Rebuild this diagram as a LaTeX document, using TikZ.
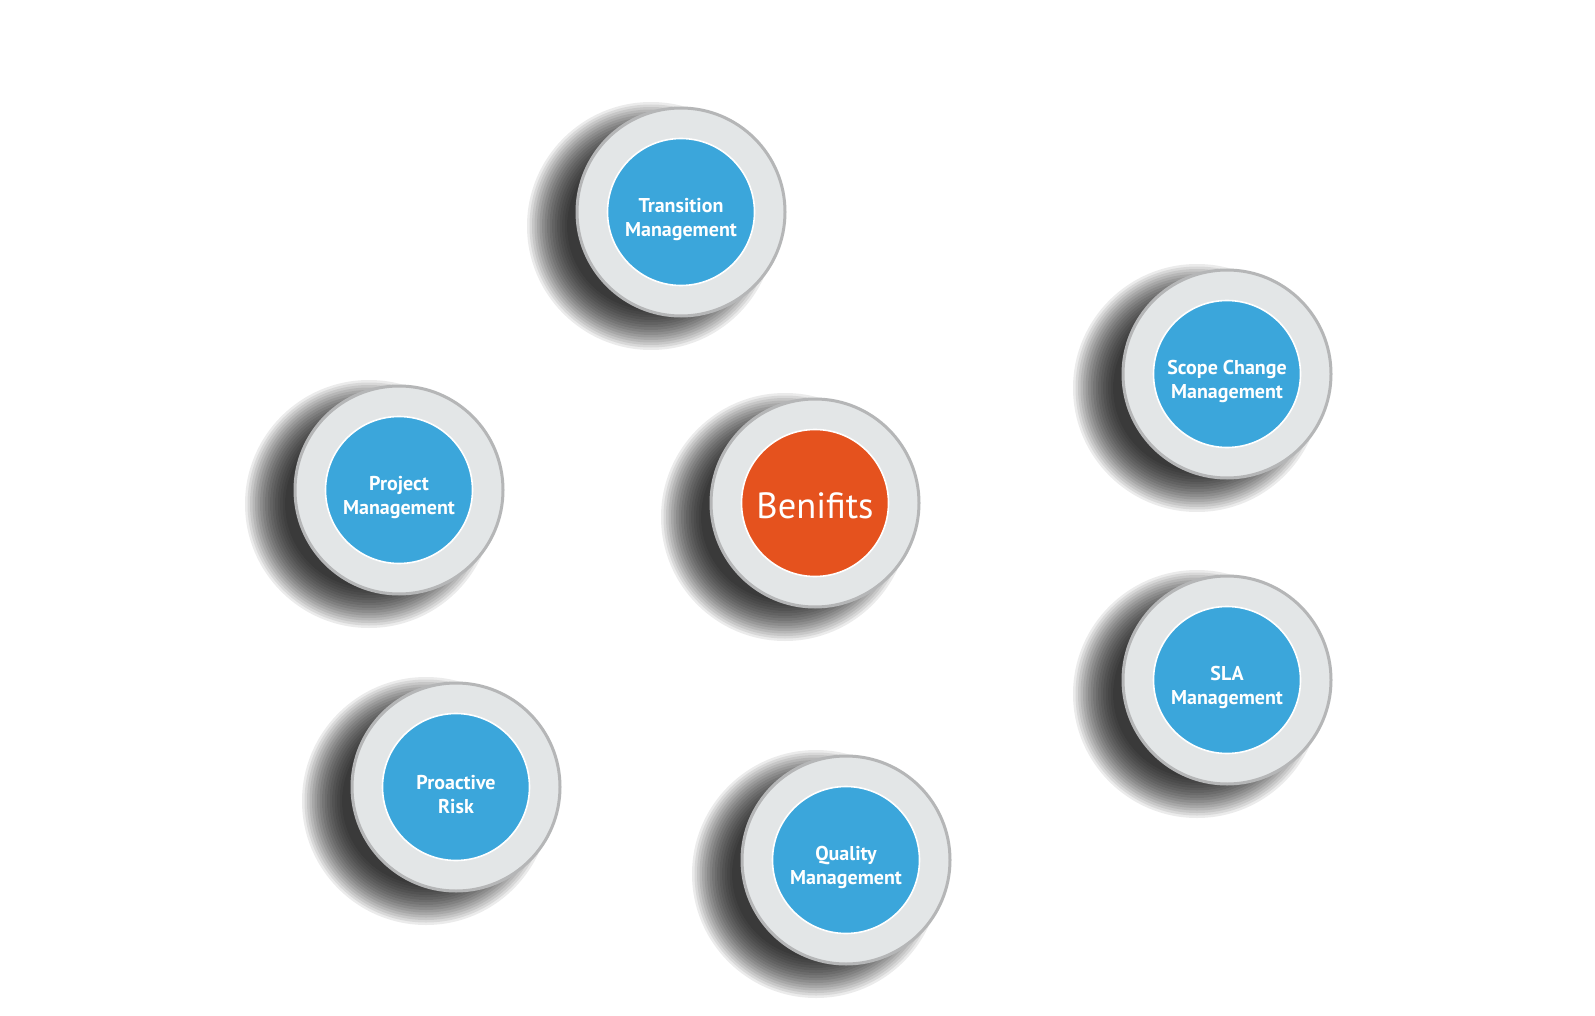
\documentclass[tikz,border=0pt]{standalone}
\usepackage{fontspec}
\setmainfont{PT Sans}
\usetikzlibrary{backgrounds}
\definecolor{ringfill}{HTML}{E3E6E7}
\definecolor{ringdraw}{HTML}{B5B6B7}
\definecolor{bluefill}{HTML}{3BA6DB}
\definecolor{orangefill}{HTML}{E5521E}
\newcommand\lowstrut{\rule{0pt}{29pt}}
\tikzset{
  ring/.style={circle, minimum size=208pt, inner sep=0pt, fill=ringfill, draw=ringdraw, line width=3pt},
  core/.style={circle, minimum size=147pt, inner sep=0pt, fill=bluefill, draw=white, line width=1.6pt,
    text=white, align=center, font=\fontsize{20}{23.5}\selectfont\bfseries},
  hub/.style={core, fill=orangefill, font=\fontsize{36.5}{40}\selectfont},
  shadowpart/.style={fill=black, opacity=0.08},
}
\begin{document}
\begin{tikzpicture}[x=1pt,y=-1pt]
\useasboundingbox (0,0) rectangle (1595,1016);
\node[ring] (r1) at (681,212) {};
\node[core] (c1) at (681,212) {\lowstrut Transition\\Management};
\node[ring] (r2) at (1227,374) {};
\node[core] (c2) at (1227,374) {\lowstrut Scope Change\\Management};
\node[ring] (r3) at (399,490) {};
\node[core] (c3) at (399,490) {\lowstrut Project\\Management};
\node[ring] (r0) at (815,503) {};
\node[hub] (c0) at (815,503) {\rule{0pt}{32pt}Benifits};
\node[ring] (r4) at (1227,680) {};
\node[core] (c4) at (1227,680) {\lowstrut SLA\\Management};
\node[ring] (r5) at (456,787) {};
\node[core] (c5) at (456,787) {\lowstrut Proactive\\Risk};
\node[ring] (r6) at (846,860) {};
\node[core] (c6) at (846,860) {\lowstrut Quality\\Management};
\begin{scope}[on background layer]
  \fill[white] (0,0) rectangle (1595,1016);
  \foreach \n in {r0,r1,r2,r3,r4,r5,r6}{
    \foreach \rr in {84,86.5,...,124}{
      \fill[shadowpart] ([shift={(-30pt,-14pt)}]\n.center) circle (\rr pt);
    }
  }
\end{scope}
\end{tikzpicture}
\end{document}
